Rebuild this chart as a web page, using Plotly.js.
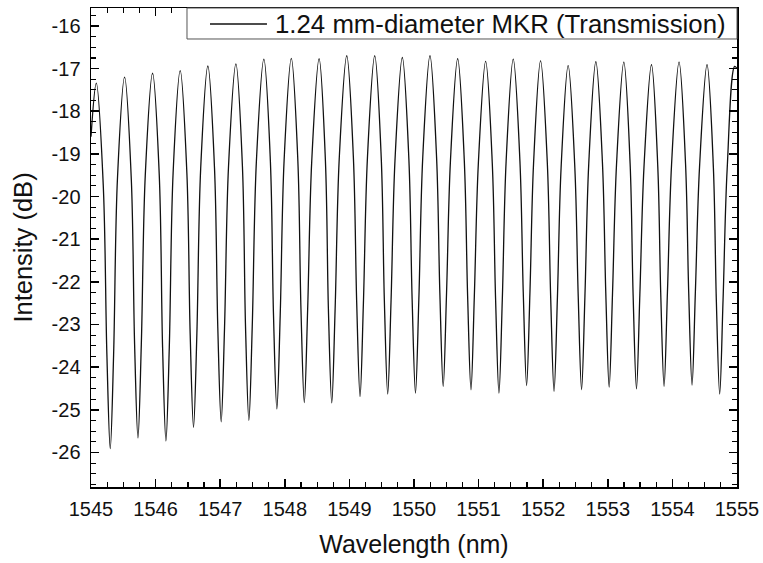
<!DOCTYPE html>
<html>
<head>
<meta charset="utf-8">
<script src="https://cdn.plot.ly/plotly-3.0.1.min.js"></script>
<style>html,body{margin:0;padding:0;background:#fff;}#chart{width:763px;height:563px;}</style>
</head>
<body>
<div id="chart"></div>
<script>
// Transmission spectrum of a 1.24 mm-diameter MKR, points read/
const startWl = 1545.0, startDb = -18.6;
const endWl = 1555.0, endDb = -17.0;
// fringe maxima
const peakWl = [1545.082,1545.520,1545.953,1546.381,1546.809,1547.243,1547.676,1548.101,1548.531,1548.959,1549.392,1549.819,1550.247,1550.676,1551.109,1551.536,1551.959,1552.386,1552.815,1553.248,1553.676,1554.103,1554.536,1554.964];
const peakDb = [-17.34,-17.20,-17.11,-17.05,-16.94,-16.89,-16.78,-16.76,-16.77,-16.70,-16.70,-16.74,-16.70,-16.77,-16.83,-16.78,-16.82,-16.93,-16.84,-16.85,-16.91,-16.85,-16.91,-16.95];
// fringe minima
const dipWl = [1545.298,1545.727,1546.160,1546.587,1547.015,1547.444,1547.877,1548.302,1548.727,1549.165,1549.593,1550.023,1550.452,1550.882,1551.315,1551.743,1552.168,1552.594,1553.021,1553.444,1553.871,1554.304,1554.732];
const dipDb = [-25.91,-25.66,-25.73,-25.41,-25.28,-25.25,-24.98,-24.83,-24.84,-24.69,-24.63,-24.61,-24.45,-24.53,-24.61,-24.43,-24.57,-24.53,-24.47,-24.51,-24.45,-24.42,-24.63];
// lower flanks of each dip (left / right)
const flankLWl = [1545.246,1545.675,1546.108,1546.535,1546.963,1547.392,1547.825,1548.250,1548.675,1549.113,1549.541,1549.971,1550.400,1550.830,1551.263,1551.691,1552.116,1552.542,1552.969,1553.392,1553.819,1554.252,1554.680];
const flankRWl = [1545.350,1545.779,1546.212,1546.639,1547.067,1547.496,1547.929,1548.354,1548.779,1549.217,1549.645,1550.075,1550.504,1550.934,1551.367,1551.795,1552.220,1552.646,1553.073,1553.496,1553.923,1554.356,1554.784];
const flankDb = [-23.71,-23.46,-23.53,-23.21,-23.08,-23.05,-22.78,-22.63,-22.64,-22.49,-22.43,-22.41,-22.25,-22.33,-22.41,-22.23,-22.37,-22.33,-22.27,-22.31,-22.25,-22.22,-22.43];
// mid-height points on the falling (left) and rising (right) sides of each dip
const midLWl = [1545.190,1545.624,1546.057,1546.484,1546.912,1547.344,1547.777,1548.202,1548.629,1549.062,1549.493,1549.921,1550.350,1550.779,1551.212,1551.640,1552.064,1552.490,1552.918,1553.346,1553.774,1554.204,1554.634];
const midLDb = [-19.74,-19.60,-19.51,-19.45,-19.34,-19.29,-19.18,-19.16,-19.17,-19.10,-19.10,-19.14,-19.10,-19.17,-19.23,-19.18,-19.22,-19.33,-19.24,-19.25,-19.31,-19.25,-19.31];
const midRWl = [1545.409,1545.840,1546.271,1546.698,1547.129,1547.560,1547.989,1548.417,1548.843,1549.279,1549.706,1550.135,1550.564,1550.996,1551.426,1551.851,1552.277,1552.705,1553.135,1553.560,1553.987,1554.420,1554.848];
const midRDb = [-19.60,-19.51,-19.45,-19.34,-19.29,-19.18,-19.16,-19.17,-19.10,-19.10,-19.14,-19.10,-19.17,-19.23,-19.18,-19.22,-19.33,-19.24,-19.25,-19.31,-19.25,-19.31,-19.35];
const xTickVals = [1545,1546,1547,1548,1549,1550,1551,1552,1553,1554,1555];
const yTickVals = [-16,-17,-18,-19,-20,-21,-22,-23,-24,-25,-26];
const yTickText = ["-16","-17","-18","-19","-20","-21","-22","-23","-24","-25","-26"];
const legendName = "1.24 mm-diameter MKR (Transmission)";

// merge all read points into one ordered trace
const pts = [[startWl, startDb], [endWl, endDb]];
peakWl.forEach((w, i) => pts.push([w, peakDb[i]]));
dipWl.forEach((w, i) => pts.push([w, dipDb[i]]));
flankLWl.forEach((w, i) => pts.push([w, flankDb[i]]));
flankRWl.forEach((w, i) => pts.push([w, flankDb[i]]));
midLWl.forEach((w, i) => pts.push([w, midLDb[i]]));
midRWl.forEach((w, i) => pts.push([w, midRDb[i]]));
pts.sort((a, b) => a[0] - b[0]);
const xs = pts.map(p => p[0]);
const ys = pts.map(p => p[1]);

const font = "Liberation Sans, Arial, sans-serif";
const axisCommon = {
  showline: true, linecolor: "#000", linewidth: 1.5, mirror: "allticks",
  ticks: "inside", ticklen: 8, tickwidth: 1.5, tickcolor: "#000",
  showgrid: false, zeroline: false,
  tickfont: {family: font, size: 20, color: "#111"}
};

const trace = {
  x: xs, y: ys, type: "scatter", mode: "lines", name: legendName,
  line: {color: "#111", width: 1.3, shape: "spline", smoothing: 1},
  showlegend: false
};

// legend box drawn in plot-area (paper) coordinates
const layout = {
  width: 763, height: 563,
  margin: {l: 91, r: 26, t: 8, b: 76},
  paper_bgcolor: "#fff", plot_bgcolor: "#fff",
  showlegend: false,
  shapes: [
    {type: "rect", xref: "paper", yref: "paper", x0: 0.1486, x1: 1, y0: 0.9353, y1: 1,
      line: {color: "#555", width: 1}, fillcolor: "#fff", layer: "above"},
    {type: "line", xref: "paper", yref: "paper", x0: 0.1842, x1: 0.2724, y0: 0.9666, y1: 0.9666,
      line: {color: "#111", width: 1.3}, layer: "above"}
  ],
  annotations: [
    {xref: "paper", yref: "paper", x: 0.2817, y: 0.9656, xanchor: "left", yanchor: "middle",
      text: legendName, showarrow: false, font: {family: font, size: 25.8, color: "#111"}}
  ],
  xaxis: Object.assign({}, axisCommon, {
    range: [1545, 1555], tickmode: "array", tickvals: xTickVals, ticklabelstandoff: 3,
    minor: {ticks: "inside", ticklen: 5, tickwidth: 1.2, tickcolor: "#000", tickmode: "linear", tick0: 1545, dtick: 0.25},
    title: {text: "Wavelength (nm)", font: {family: font, size: 25, color: "#111"}, standoff: 17}
  }),
  yaxis: Object.assign({}, axisCommon, {
    range: [-26.81, -15.58], tickmode: "array", tickvals: yTickVals, ticktext: yTickText, ticklabelstandoff: 5,
    minor: {ticks: "inside", ticklen: 5, tickwidth: 1.2, tickcolor: "#000", tickmode: "linear", tick0: -26, dtick: 0.25},
    title: {text: "Intensity (dB)", font: {family: font, size: 25.5, color: "#111"}, standoff: 11}
  })
};

Plotly.newPlot("chart", [trace], layout, {displayModeBar: false, staticPlot: true});
</script>
</body>
</html>
